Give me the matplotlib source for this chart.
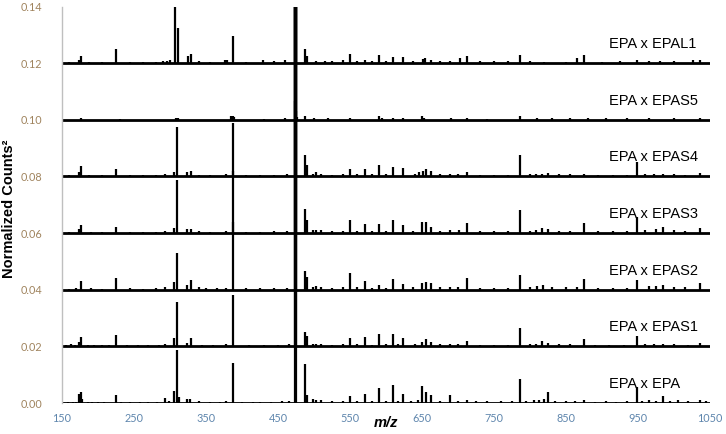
import matplotlib
matplotlib.use("Agg")
import matplotlib.pyplot as plt

# ---------------- data ----------------
mz_range = [150, 1050]
x_ticks = [150, 250, 350, 450, 550, 650, 750, 850, 950, 1050]
y_ticks = [0.00, 0.02, 0.04, 0.06, 0.08, 0.10, 0.12, 0.14]

series_labels = ["EPA x EPA", "EPA x EPAS1", "EPA x EPAS2", "EPA x EPAS3",
                 "EPA x EPAS4", "EPA x EPAS5", "EPA x EPAL1"]
series_offsets = [0.00, 0.02, 0.04, 0.06, 0.08, 0.10, 0.12]

# peak lists (m/z, normalized counts^2 above each trace's baseline)
epa_mz = [158, 165, 170, 173, 176, 178, 186, 192, 200, 208, 224.5, 232, 245, 258, 270, 282,
          293, 298, 305, 310, 313, 324, 328, 340, 355, 370, 378, 387, 400, 415, 425, 440,
          455, 465, 473, 474.5, 487.5, 490.7, 498, 503, 510, 525, 540, 550, 560, 571, 580,
          590.7, 600, 610, 617, 624, 635, 645, 650, 655, 662, 675, 689, 700, 712, 725, 740,
          760, 775, 786, 795, 805, 812, 820, 825, 835, 850, 862, 875, 890, 905, 920, 935,
          948, 955, 965, 975, 985, 995, 1005, 1020, 1036, 1045]
epa_int = [0.0004, 0.0005, 0.0004, 0.0033, 0.0039, 0.0015, 0.0005, 0.0004, 0.0005, 0.0004,
           0.0030, 0.0004, 0.0005, 0.0004, 0.0005, 0.0004, 0.0018, 0.0006, 0.0043, 0.0186,
           0.0020, 0.0015, 0.0015, 0.0006, 0.0004, 0.0005, 0.0006, 0.0143, 0.0004, 0.0005,
           0.0004, 0.0005, 0.0006, 0.0008, 0.2000, 0.2000, 0.0136, 0.0030, 0.0015, 0.0012,
           0.0012, 0.0006, 0.0008, 0.0024, 0.0008, 0.0032, 0.0006, 0.0053, 0.0006, 0.0063,
           0.0008, 0.0032, 0.0008, 0.0010, 0.0059, 0.0040, 0.0027, 0.0008, 0.0030, 0.0008,
           0.0012, 0.0006, 0.0008, 0.0006, 0.0006, 0.0085, 0.0008, 0.0010, 0.0010, 0.0015,
           0.0038, 0.0008, 0.0008, 0.0006, 0.0010, 0.0005, 0.0006, 0.0005, 0.0006, 0.0055,
           0.0008, 0.0012, 0.0008, 0.0026, 0.0008, 0.0010, 0.0008, 0.0010, 0.0006]

epas1_mz = [155, 162, 168, 173, 176, 186, 195, 205, 215, 224.5, 240, 255, 270, 285, 293,
            305, 310, 324, 329, 345, 360, 378, 387, 410, 430, 450, 465, 473, 474.5, 487.5,
            490.7, 498, 503, 510, 525, 540, 550, 560, 571, 580, 590.7, 600, 610, 617, 624,
            640, 650, 656, 662, 675, 689, 700, 712, 730, 750, 770, 786, 800, 808, 816, 825,
            840, 855, 875, 890, 910, 930, 948, 960, 972, 985, 1000, 1020, 1036]
epas1_int = [0.0006, 0.0008, 0.0006, 0.0015, 0.0033, 0.0005, 0.0006, 0.0005, 0.0005,
             0.0039, 0.0005, 0.0005, 0.0004, 0.0005, 0.0008, 0.0028, 0.0156, 0.0013,
             0.0030, 0.0006, 0.0005, 0.0007, 0.0180, 0.0005, 0.0005, 0.0006, 0.0007,
             0.2000, 0.2000, 0.0050, 0.0035, 0.0010, 0.0010, 0.0010, 0.0006, 0.0008,
             0.0030, 0.0007, 0.0033, 0.0006, 0.0042, 0.0007, 0.0042, 0.0007, 0.0030,
             0.0008, 0.0015, 0.0025, 0.0015, 0.0008, 0.0010, 0.0008, 0.0018, 0.0006,
             0.0006, 0.0006, 0.0065, 0.0008, 0.0010, 0.0018, 0.0012, 0.0008, 0.0007,
             0.0027, 0.0006, 0.0006, 0.0006, 0.0035, 0.0010, 0.0010, 0.0010, 0.0008,
             0.0006, 0.0012]

epas2_mz = [160, 170, 176, 190, 205, 224.5, 245, 262, 280, 293, 305, 310, 324, 329, 340,
            350, 365, 378, 387, 405, 425, 445, 462, 473, 474.5, 487.5, 490.7, 498, 503,
            510, 525, 540, 550, 560, 571, 580, 590.7, 600, 610, 624, 637, 650, 655, 662,
            675, 689, 700, 712, 730, 750, 770, 786, 800, 810, 818, 830, 850, 865, 875,
            895, 915, 935, 948, 965, 975, 985, 1000, 1015, 1036]
epas2_int = [0.0004, 0.0006, 0.0030, 0.0005, 0.0004, 0.0041, 0.0005, 0.0004, 0.0005,
             0.0008, 0.0027, 0.0130, 0.0015, 0.0035, 0.0008, 0.0006, 0.0005, 0.0007,
             0.0240, 0.0005, 0.0005, 0.0006, 0.0007, 0.2000, 0.2000, 0.0065, 0.0045,
             0.0010, 0.0012, 0.0010, 0.0006, 0.0008, 0.0058, 0.0008, 0.0030, 0.0007,
             0.0015, 0.0007, 0.0038, 0.0020, 0.0008, 0.0025, 0.0028, 0.0022, 0.0008,
             0.0010, 0.0008, 0.0042, 0.0006, 0.0006, 0.0006, 0.0053, 0.0010, 0.0012,
             0.0015, 0.0010, 0.0008, 0.0010, 0.0039, 0.0006, 0.0006, 0.0006, 0.0035,
             0.0012, 0.0012, 0.0015, 0.0010, 0.0008, 0.0024]

epas3_mz = [160, 173, 176, 190, 205, 224.5, 245, 262, 280, 293, 305, 310, 324, 329, 340,
            355, 378, 387, 405, 425, 445, 462, 473, 474.5, 487.5, 490.7, 498, 503, 510,
            525, 540, 550, 560, 571, 580, 590.7, 600, 610, 624, 637, 650, 656, 662, 675,
            689, 702, 712, 730, 750, 770, 786, 800, 808, 816, 825, 840, 855, 875, 895,
            915, 935, 948, 960, 975, 985, 1000, 1015, 1036]
epas3_int = [0.0004, 0.0015, 0.0030, 0.0005, 0.0004, 0.0021, 0.0005, 0.0004, 0.0005,
             0.0008, 0.0017, 0.0188, 0.0015, 0.0015, 0.0006, 0.0005, 0.0007, 0.0220,
             0.0005, 0.0005, 0.0006, 0.0007, 0.2000, 0.2000, 0.0085, 0.0045, 0.0012,
             0.0010, 0.0010, 0.0006, 0.0008, 0.0047, 0.0008, 0.0033, 0.0007, 0.0033,
             0.0007, 0.0047, 0.0030, 0.0008, 0.0040, 0.0040, 0.0020, 0.0008, 0.0010,
             0.0010, 0.0035, 0.0006, 0.0006, 0.0006, 0.0080, 0.0008, 0.0010, 0.0018,
             0.0015, 0.0008, 0.0007, 0.0035, 0.0006, 0.0006, 0.0006, 0.0057, 0.0012,
             0.0015, 0.0020, 0.0010, 0.0008, 0.0018]

epas4_mz = [160, 173, 176, 187, 205, 224.5, 245, 262, 280, 293, 305, 310, 324, 329, 340,
            355, 378, 387, 405, 425, 445, 462, 473, 474.5, 487.5, 490.7, 498, 503, 510,
            525, 540, 550, 560, 571, 580, 590.7, 600, 610, 624, 640, 646, 651, 656, 662,
            675, 689, 700, 712, 730, 750, 770, 786, 800, 808, 816, 825, 840, 855, 875,
            895, 915, 935, 948, 960, 972, 985, 1000, 1015, 1036]
epas4_int = [0.0004, 0.0015, 0.0038, 0.0005, 0.0004, 0.0026, 0.0005, 0.0004, 0.0005,
             0.0007, 0.0017, 0.0176, 0.0015, 0.0020, 0.0006, 0.0005, 0.0007, 0.0190,
             0.0005, 0.0005, 0.0006, 0.0007, 0.2000, 0.2000, 0.0075, 0.0040, 0.0010,
             0.0015, 0.0010, 0.0006, 0.0010, 0.0026, 0.0008, 0.0028, 0.0007, 0.0041,
             0.0007, 0.0034, 0.0030, 0.0008, 0.0015, 0.0020, 0.0025, 0.0020, 0.0008,
             0.0010, 0.0008, 0.0017, 0.0006, 0.0006, 0.0006, 0.0077, 0.0008, 0.0010,
             0.0010, 0.0012, 0.0008, 0.0007, 0.0010, 0.0006, 0.0006, 0.0006, 0.0050,
             0.0010, 0.0010, 0.0010, 0.0008, 0.0006, 0.0012]

epas5_mz = [176, 230, 308, 311, 385, 387, 389, 430, 460, 473, 475, 477, 487.5, 500, 520,
            550, 590.7, 595, 610, 624, 650, 653, 690, 712, 740, 786, 810, 830, 855, 880,
            905, 935, 965, 1000, 1036]
epas5_int = [0.0005, 0.0003, 0.0008, 0.0008, 0.0012, 0.0013, 0.0010, 0.0004, 0.0005,
             0.0067, 0.0030, 0.0010, 0.0012, 0.0005, 0.0005, 0.0005, 0.0012, 0.0008,
             0.0007, 0.0008, 0.0012, 0.0008, 0.0005, 0.0006, 0.0004, 0.0012, 0.0006,
             0.0006, 0.0005, 0.0005, 0.0006, 0.0005, 0.0006, 0.0005, 0.0005]

epal1_mz = [160, 174, 176, 187, 205, 224.5, 245, 262, 280, 290, 296, 300, 307, 311.6,
            324.5, 328.7, 340, 355, 376, 378.7, 387, 405, 429, 445, 460, 473, 474.5,
            487.5, 490.7, 502.8, 515, 525, 539.8, 550, 560, 570.8, 580, 590.7, 600,
            610.2, 624, 637, 651, 654, 662, 675, 689, 702.8, 712, 730, 750, 770, 786,
            800, 820, 850, 865, 875, 900, 925, 948, 965, 980.5, 1000, 1026, 1036]
epal1_int = [0.0004, 0.0010, 0.0026, 0.0005, 0.0004, 0.0050, 0.0005, 0.0004, 0.0005,
             0.0006, 0.0008, 0.0010, 0.0220, 0.0124, 0.0025, 0.0033, 0.0006, 0.0005,
             0.0012, 0.0010, 0.0097, 0.0005, 0.0010, 0.0006, 0.0010, 0.2000, 0.2000,
             0.0050, 0.0025, 0.0007, 0.0006, 0.0006, 0.0010, 0.0034, 0.0006, 0.0010,
             0.0006, 0.0030, 0.0006, 0.0022, 0.0021, 0.0007, 0.0014, 0.0017, 0.0010,
             0.0006, 0.0008, 0.0017, 0.0026, 0.0006, 0.0006, 0.0006, 0.0030, 0.0006,
             0.0005, 0.0005, 0.0017, 0.0030, 0.0005, 0.0006, 0.0010, 0.0006, 0.0008,
             0.0006, 0.0012, 0.0012]

peak_mz = [epa_mz, epas1_mz, epas2_mz, epas3_mz, epas4_mz, epas5_mz, epal1_mz]
peak_int = [epa_int, epas1_int, epas2_int, epas3_int, epas4_int, epas5_int, epal1_int]

# ---------------- plot ----------------
fig = plt.figure(figsize=(7.26, 4.34), dpi=100)
ax = fig.add_axes([0.0854, 0.0714, 0.8926, 0.9136])

for mzs, ints, off in zip(peak_mz, peak_int, series_offsets):
    ax.plot(mz_range, [off, off], color="black", lw=2.0, solid_capstyle="butt", zorder=2)
    ax.vlines(mzs, off, [off + v for v in ints], color="black", lw=1.6, zorder=3)

for lab, off in zip(series_labels, series_offsets):
    ax.text(909, off + 0.0067, lab, ha="left", va="center", fontsize=10.5,
            family="Liberation Sans", color="black", zorder=1)

ax.set_xlim(mz_range)
ax.set_ylim(0, 0.14)
ax.set_xticks(x_ticks)
ax.set_yticks(y_ticks)
ax.set_xticklabels([str(t) for t in x_ticks], family="Lato", fontsize=7.8, color="#5f86ad")
ax.set_yticklabels([f"{t:.2f}" for t in y_ticks], family="Lato", fontsize=7.8, color="#a0845e")
ax.tick_params(axis="both", length=0)
ax.tick_params(axis="y", pad=14)
ax.tick_params(axis="x", pad=7)

for s in ["top", "right", "bottom"]:
    ax.spines[s].set_visible(False)
ax.spines["left"].set_color("#bfbfbf")
ax.spines["left"].set_linewidth(1.0)

ax.set_ylabel("Normalized Counts²", family="Liberation Sans", fontsize=10.5,
              fontweight="bold")
ax.yaxis.set_label_coords(-0.0715, 0.49)
ax.set_xlabel("m/z", family="Liberation Sans", fontsize=10.5, fontweight="bold",
              fontstyle="italic")
ax.xaxis.set_label_coords(0.5, -0.033)

fig.savefig("out.png", dpi=100)
